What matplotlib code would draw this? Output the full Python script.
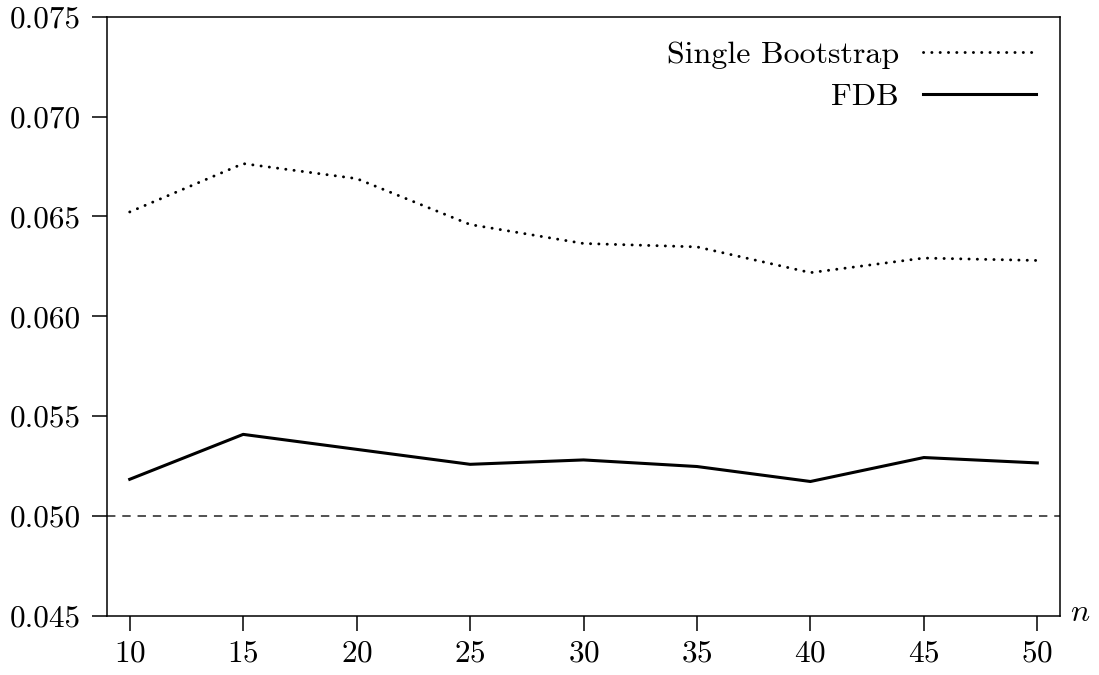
import matplotlib
matplotlib.use("Agg")
import matplotlib.pyplot as plt
from matplotlib.ticker import FormatStrFormatter

plt.rcParams['font.family'] = 'serif'
plt.rcParams['font.serif'] = ['cmr10']
plt.rcParams['mathtext.fontset'] = 'cm'
plt.rcParams['axes.formatter.use_mathtext'] = True

# rejection rates against sample size
n = [10, 15, 20, 25, 30, 35, 40, 45, 50]
single_boot = [0.06522, 0.06764, 0.06689, 0.06459, 0.06364, 0.06347, 0.06218, 0.06291, 0.06279]
fdb = [0.05183, 0.05408, 0.05333, 0.05258, 0.05280, 0.05247, 0.05172, 0.05292, 0.05265]
nominal = 0.05

fig = plt.figure(figsize=(10.99, 6.75), dpi=100)
ax = fig.add_axes([0.0974, 0.0879, 0.9645 - 0.0974, 0.9753 - 0.0879])

ax.axhline(nominal, color='#222222', lw=1.1, dashes=(5.5, 4.5))
ax.plot(n, single_boot, color='black', lw=2.1, dashes=(0.05, 2.8),
        dash_capstyle='round', label='Single Bootstrap')
ax.plot(n, fdb, color='black', lw=2.2, label='FDB')

ax.set_xlim(9, 51)
ax.set_ylim(0.045, 0.075)
ax.set_xticks(n)
ax.set_yticks([0.045, 0.050, 0.055, 0.060, 0.065, 0.070, 0.075])
ax.yaxis.set_major_formatter(FormatStrFormatter('%.3f'))

for s in ax.spines.values():
    s.set_linewidth(1.1)
ax.tick_params(direction='out', length=11, width=1.1, labelsize=22.5)
ax.tick_params(axis='y', pad=8)
ax.tick_params(axis='x', pad=6)
ax.tick_params(top=False, right=False)

ax.annotate('$n$', xy=(1, 0), xycoords='axes fraction', xytext=(7, 2),
            textcoords='offset points', ha='left', va='center', fontsize=23)

ax.legend(loc='upper right', frameon=False, fontsize=23, markerfirst=False,
          handlelength=3.55, handletextpad=0.75, labelspacing=0.42,
          borderaxespad=0.55, borderpad=0.2)

fig.savefig('out.png', dpi=100)
